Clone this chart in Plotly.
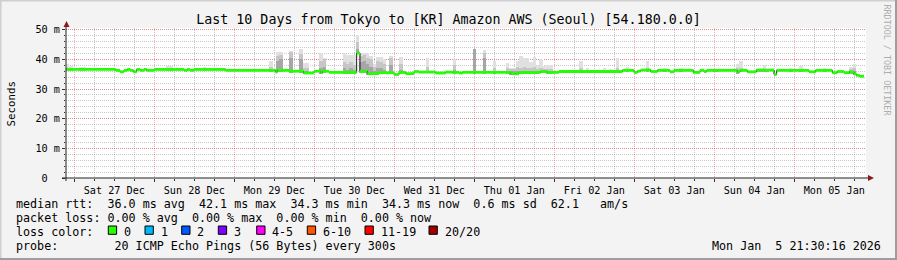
import numpy as np
import pandas as pd
import plotly.graph_objects as go

# ---------------- data ----------------
title = "Last 10 Days from Tokyo to [KR] Amazon AWS (Seoul) [54.180.0.0]"
start = pd.Timestamp("2025-12-26 21:30:16")
span_hours = 240

# median rtt (ms), step changes: hours since start -> value
med_t = [0, 14.9, 16.2, 17.4, 18.4, 19.2, 20.2, 21.2, 22.2, 23.4, 24.2, 26.4, 35.4, 36.4, 37.2, 38.4, 47.9,
         62.9, 63.4, 66.9, 71.2, 74.4, 76.4, 76.9, 78.9, 87.2, 88.2, 90.4, 93.9, 98.4, 99.9, 101.9, 104.4,
         105.9, 110.9, 113.9, 115.9, 117.9, 118.9, 133.4, 134.9, 135.9, 142.4, 144.4, 147.9, 166.9, 170.4,
         171.4, 172.4, 175.4, 177.4, 181.2, 182.4, 188.2, 190.2, 191.4, 192.2, 201.4, 202.2, 204.4, 207.1,
         212.4, 213.2, 222.9, 224.9, 229.9, 231.4, 233.4, 235.1, 236.4, 237.1, 238.1, 239.4]
med_v = [36.6, 36.3, 35.8, 36.3, 36.6, 36.3, 35.8, 36.6, 36.3, 36.6, 36.3, 36.6, 36.3, 36.6, 36.3, 36.6, 36.3,
         35.7, 36.3, 36.0, 35.4, 36.0, 35.6, 36.0, 35.6, 42.1, 36.0, 35.2, 35.5, 34.9, 35.6, 35.2, 35.9,
         35.7, 35.4, 35.7, 35.6, 35.4, 35.6, 35.2, 35.1, 35.6, 35.9, 35.6, 35.9, 36.3, 35.6,
         36.0, 36.4, 35.9, 36.3, 35.8, 36.3, 35.6, 36.3, 35.9, 36.3, 35.8, 36.3, 35.8, 36.4,
         34.9, 36.3, 35.8, 36.3, 35.5, 35.9, 35.5, 35.8, 35.1, 34.6, 34.3, 34.3]

# smoke (ping spread) per hour bin: max, mid-layer top, dark-layer top (ms)
smoke_h = [0, 1, 4, 5, 30, 31, 41, 61, 63, 64, 67, 70, 71, 72, 76, 77, 83, 84, 85, 86, 87, 88, 89, 90, 91, 92,
           93, 94, 95, 97, 100, 108, 116, 122, 125, 128, 132, 133, 134, 135, 136, 137, 138, 139, 140, 141,
           142, 143, 144, 145, 154, 156, 161, 163, 165, 168, 174, 179, 184, 194, 195, 201, 202, 207, 208,
           209, 210, 217, 220, 227, 235, 236]
smoke_max = [38.4, 37.9, 37.3, 37.3, 37.6, 37.6, 37.3, 39.3, 42.5, 42.5, 42.9, 43.6, 38.7, 38.7, 42.1, 40.4,
             42.1, 41.6, 41.6, 41.6, 48.3, 42.1, 42.1, 42.1, 41.0, 38.6, 40.8, 40.8, 40.0, 41.3, 40.8, 40.4,
             40.0, 43.6, 43.2, 39.3, 38.7, 37.0, 37.0, 39.5, 41.1, 40.4, 40.4, 39.0, 40.8, 37.8, 40.2, 37.6,
             38.2, 38.2, 39.5, 37.0, 37.0, 36.8, 40.4, 37.3, 39.3, 37.0, 37.0, 36.9, 36.9, 38.4, 39.6, 36.9,
             36.9, 38.0, 36.9, 37.0, 37.8, 37.0, 37.3, 38.3]
smoke_mid = [37.0, 36.9, 36.9, 36.9, 36.9, 36.9, 36.8, 37.5, 41.0, 41.5, 42.5, 41.8, 37.0, 37.0, 39.5, 40.0,
             39.0, 38.5, 39.0, 38.0, 46.0, 41.0, 41.5, 40.5, 40.0, 37.5, 39.5, 39.0, 38.5, 40.5, 38.5, 37.5,
             38.0, 43.6, 42.0, 37.0, 37.0, 36.6, 36.6, 37.5, 37.0, 37.5, 37.0, 37.0, 37.5, 36.8, 37.0, 36.6,
             36.8, 36.8, 37.0, 36.5, 36.5, 36.5, 37.0, 36.8, 37.0, 36.7, 36.7, 36.6, 36.6, 37.0, 37.0, 36.6,
             36.6, 36.8, 36.6, 36.6, 36.8, 36.6, 36.8, 37.0]
smoke_dark = [36.0, 36.0, 36.0, 36.0, 36.0, 36.0, 36.0, 36.0, 39.5, 40.0, 40.5, 40.0, 36.0, 36.0, 37.0, 37.5,
              37.0, 36.5, 37.0, 36.5, 43.5, 39.0, 39.5, 38.5, 37.5, 36.0, 37.0, 37.0, 36.5, 38.0, 36.5, 36.0,
              36.5, 43.6, 40.5, 36.0, 36.0, 36.0, 36.0, 36.0, 36.0, 36.0, 36.0, 36.0, 36.0, 36.0, 36.0, 36.0,
              36.0, 36.0, 36.0, 36.0, 36.0, 36.0, 36.0, 36.0, 36.0, 36.0, 36.0, 36.0, 36.0, 36.0, 36.0, 36.0,
              36.0, 36.0, 36.0, 36.0, 36.0, 36.0, 36.0, 36.0]

y_tickvals = [0, 10, 20, 30, 40, 50]
y_ticktext = ["0\u00a0\u00a0", "10 m", "20 m", "30 m", "40 m", "50 m"]

stats_rtt = "median rtt:  36.0 ms avg  42.1 ms max  34.3 ms min  34.3 ms now  0.6 ms sd  62.1   am/s"
stats_loss = "packet loss: 0.00 % avg  0.00 % max  0.00 % min  0.00 % now"
loss_title = "loss color:"
loss_labels = ["0", "1", "2", "3", "4-5", "6-10", "11-19", "20/20"]
loss_colors = ["#26ff00", "#00b8ff", "#0059ff", "#7e00ff", "#ff00ff", "#ff5500", "#ff0000", "#a10000"]
probe_text = "probe:        20 ICMP Echo Pings (56 Bytes) every 300s"
stamp_text = "Mon Jan\u00a0\u00a05 21:30:16 2026"
side_text = "RRDTOOL / TOBI OETIKER"

# ---------------- layout constants ----------------
W, H = 897, 260
L, R, T, B = 66, 31, 28, 82
PW, PH = W - L - R, H - T - B
FONT = "DejaVu Sans Mono"
FS = 11.7      # legend text
AFS = 10.2     # axis text


def px(X):
    return (X - L) / PW


def py(Y):
    return (T + PH - Y) / PH


def at(h):
    return start + pd.to_timedelta(np.asarray(h, dtype=float), unit="h")


med_t_arr = np.array(med_t)
med_v_arr = np.array(med_v)


def med_at(h):
    i = np.searchsorted(med_t_arr, h, side="right") - 1
    return med_v_arr[np.clip(i, 0, len(med_v_arr) - 1)]


fig = go.Figure()

# smoke layers
sh = np.array(smoke_h, dtype=float) + 0.5
base = med_at(sh) - 0.45
for vals, col in [(smoke_max, "#e0e0e0"), (smoke_mid, "#c6c6c6"), (smoke_dark, "#a6a6a6")]:
    v = np.array(vals)
    hgt = np.clip(v - base, 0, None)
    fig.add_trace(go.Bar(x=at(sh), y=hgt, base=base, width=3600000 * 0.95,
                         marker=dict(color=col, line=dict(width=0)), showlegend=False,
                         hoverinfo="skip"))

# thin dark median line (shows step edges)
fig.add_trace(go.Scatter(x=at(med_t), y=med_v, mode="lines", line=dict(color="#1a1a1a", width=1, shape="hv"),
                         showlegend=False, hoverinfo="skip"))
# green median band (horizontal segments only)
gx, gy = [], []
for i in range(len(med_t) - 1):
    gx += [med_t[i], med_t[i + 1], None]
    gy += [med_v[i], med_v[i], None]
gx_dt = [at(v) if v is not None else None for v in gx]
fig.add_trace(go.Scatter(x=gx_dt, y=gy, mode="lines", line=dict(color="#22ff00", width=2.8),
                         connectgaps=False, showlegend=False, hoverinfo="skip"))

major_grid = "rgba(235,60,60,0.42)"
minor_grid = "rgba(120,120,120,0.4)"

fig.update_layout(
    width=W, height=H, margin=dict(l=L, r=R, t=T, b=B, pad=0),
    paper_bgcolor="#f3f3f3", plot_bgcolor="#ffffff",
    barmode="overlay", bargap=0,
    font=dict(family=FONT, size=FS, color="#000000"),
    title=dict(text=title, x=0.5, xref="container", xanchor="center",
               y=1 - 19 / H, yref="container", yanchor="middle",
               font=dict(family=FONT, size=13.3, color="#000000")),
    xaxis=dict(type="date", range=[at(0), at(span_hours)],
               tick0="2025-12-27 00:00:00", dtick=86400000, ticklabelmode="period",
               tickformat="%a %d %b", showgrid=True, gridcolor=major_grid, griddash="1px,1px", gridwidth=1,
               ticks="outside", ticklen=3, tickcolor="#333333", showline=False, zeroline=False,
               tickfont=dict(family=FONT, size=AFS), ticklabelstandoff=0,
               minor=dict(tick0="2025-12-27 00:00:00", dtick=21600000, showgrid=True, gridcolor=minor_grid,
                          griddash="1px,1px", ticks="outside", ticklen=2, tickcolor="#333333")),
    yaxis=dict(range=[0, 150 / 2.966], tickvals=y_tickvals, ticktext=y_ticktext,
               showgrid=True, gridcolor=major_grid, griddash="1px,1px", zeroline=False, showline=False,
               ticks="outside", ticklen=3, tickcolor="#333333", tickfont=dict(family=FONT, size=AFS),
               minor=dict(tick0=0, dtick=2, showgrid=True, gridcolor=minor_grid, griddash="1px,1px",
                          ticks="outside", ticklen=1, tickcolor="#333333")),
)

shapes = []
# frame
shapes.append(dict(type="line", xref="paper", yref="paper", x0=px(0), x1=px(W), y0=py(0.5), y1=py(0.5),
                   line=dict(color="#cfcfcf", width=2)))
shapes.append(dict(type="line", xref="paper", yref="paper", x0=px(0.5), x1=px(0.5), y0=py(0), y1=py(H),
                   line=dict(color="#cfcfcf", width=2)))
shapes.append(dict(type="line", xref="paper", yref="paper", x0=px(0), x1=px(W), y0=py(H - 1), y1=py(H - 1),
                   line=dict(color="#9e9e9e", width=2)))
shapes.append(dict(type="line", xref="paper", yref="paper", x0=px(W - 1), x1=px(W - 1), y0=py(0), y1=py(H),
                   line=dict(color="#9e9e9e", width=2)))
# axes with arrows
shapes.append(dict(type="line", xref="paper", yref="paper", x0=px(62), x1=px(870), y0=0, y1=0,
                   line=dict(color="#202020", width=1)))
shapes.append(dict(type="line", xref="paper", yref="paper", x0=0, x1=0, y0=py(181), y1=py(24),
                   line=dict(color="#202020", width=1)))
shapes.append(dict(type="path", xref="paper", yref="paper",
                   path=f"M {px(63.5)} {py(27)} L {px(69.5)} {py(27)} L {px(66.5)} {py(21)} Z",
                   fillcolor="#8b1a1a", line=dict(width=0)))
shapes.append(dict(type="path", xref="paper", yref="paper",
                   path=f"M {px(868)} {py(175)} L {px(868)} {py(181)} L {px(874)} {py(178)} Z",
                   fillcolor="#8b1a1a", line=dict(width=0)))

annotations = []
annotations.append(dict(text="Seconds", textangle=-90, xref="paper", yref="paper", x=px(10.5), y=py(103),
                        xanchor="center", yanchor="middle", showarrow=False, font=dict(family=FONT, size=10.8)))
annotations.append(dict(text=side_text, textangle=90, xref="paper", yref="paper", x=px(886.5), y=py(60),
                        xanchor="center", yanchor="middle", showarrow=False,
                        font=dict(family=FONT, size=8.4, color="#adadad")))


def row(text, Y, X=14, anchor="left"):
    annotations.append(dict(text=text.replace(" ", "\u00a0"), xref="paper", yref="paper", x=px(X), y=py(Y),
                            xanchor=anchor, yanchor="middle", showarrow=False,
                            font=dict(family=FONT, size=FS, color="#000000")))


row(stats_rtt, 204)
row(stats_loss, 218)
row(loss_title, 232)
row(probe_text, 246)
row(stamp_text, 246, X=883, anchor="right")

box_left = [108.3, 145.0, 181.7, 218.3, 256.7, 307.3, 365.0, 429.0]
for lab, col, bx in zip(loss_labels, loss_colors, box_left):
    shapes.append(dict(type="rect", xref="paper", yref="paper", x0=px(bx), x1=px(bx + 8.3),
                       y0=py(234.3), y1=py(226), fillcolor=col, line=dict(color="#000000", width=1)))
    row(lab, 232, X=bx + 13.5)

fig.update_layout(shapes=shapes, annotations=annotations)
fig.write_html("out.html")
